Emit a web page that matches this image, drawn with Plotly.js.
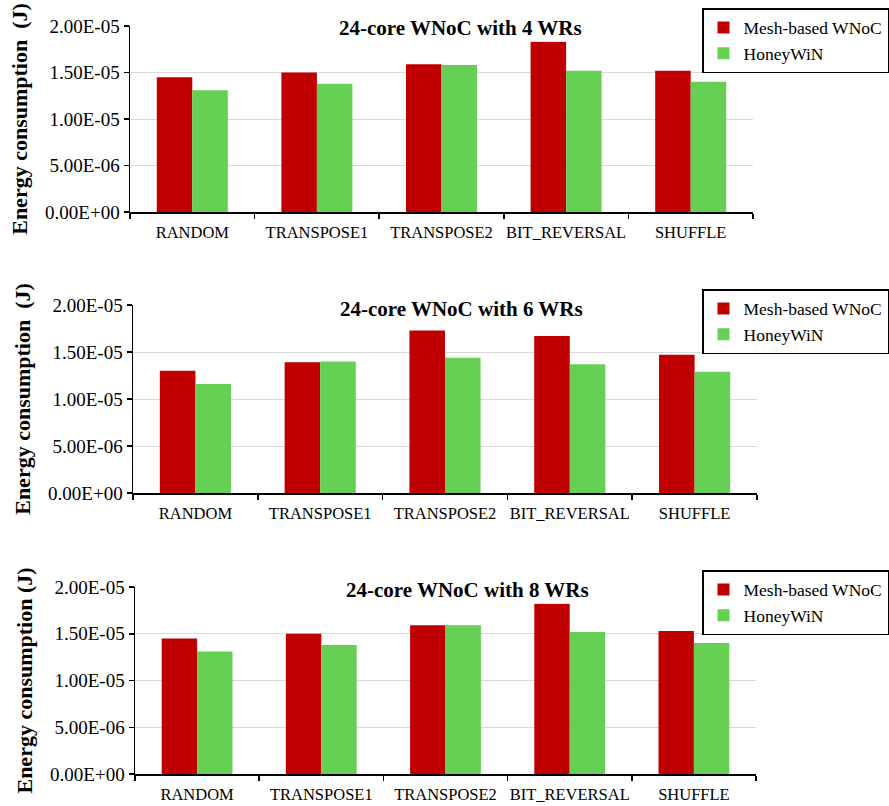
<!DOCTYPE html>
<html>
<head>
<meta charset="utf-8">
<script src="https://cdn.plot.ly/plotly-3.0.1.min.js"></script>
<style>
  html, body { margin: 0; padding: 0; background: #fff; }
  #chart { width: 889px; height: 806px; }
</style>
</head>
<body>
<div id="chart"></div>
<script>
// Traffic patterns on the x axis
const categories = ['RANDOM', 'TRANSPOSE1', 'TRANSPOSE2', 'BIT_REVERSAL', 'SHUFFLE'];

// Energy consumption (J), 4 wireless routers
const mesh4  = [1.45e-5, 1.50e-5, 1.59e-5, 1.83e-5, 1.52e-5];
const honey4 = [1.31e-5, 1.38e-5, 1.58e-5, 1.52e-5, 1.40e-5];

// Energy consumption (J), 6 wireless routers
const mesh6  = [1.30e-5, 1.39e-5, 1.73e-5, 1.67e-5, 1.47e-5];
const honey6 = [1.16e-5, 1.40e-5, 1.44e-5, 1.37e-5, 1.29e-5];

// Energy consumption (J), 8 wireless routers
const mesh8  = [1.45e-5, 1.50e-5, 1.59e-5, 1.82e-5, 1.53e-5];
const honey8 = [1.31e-5, 1.38e-5, 1.59e-5, 1.52e-5, 1.40e-5];

const seriesNames = ['Mesh-based WNoC', 'HoneyWiN'];
const panelTitles = ['24-core WNoC with 4 WRs', '24-core WNoC with 6 WRs', '24-core WNoC with 8 WRs'];
const yTitles = ['Energy consumption\u00a0 (J)', 'Energy consumption\u00a0 (J)', 'Energy consumption (J)'];
const yTickVals = [0, 5e-6, 1e-5, 1.5e-5, 2e-5];
const yTickText = ['0.00E+00', '5.00E-06', '1.00E-05', '1.50E-05', '2.00E-05'];

const W = 889, H = 806;
const FONT = '"Liberation Serif", "Times New Roman", serif';
const RED = '#c00000';
const GREEN = '#66d055';

// Pixel boxes of each plot area: [left, right, top, bottom]
const boxes = [
  [130, 753, 26, 212],
  [133, 757, 305, 493],
  [135, 756, 587, 774]
];
const titlePos = [[460, 28], [462, 309], [467, 590]];
const legendPos = [8, 289, 570];

const data = [];
const layout = {
  width: W, height: H,
  margin: {l: 0, r: 0, t: 0, b: 0},
  paper_bgcolor: '#fff', plot_bgcolor: '#fff',
  font: {family: FONT, color: '#000', size: 17},
  barmode: 'group',
  bargap: 0.43,
  bargroupgap: 0,
  annotations: []
};

const panels = [[mesh4, honey4], [mesh6, honey6], [mesh8, honey8]];

panels.forEach((pair, i) => {
  const n = i === 0 ? '' : String(i + 1);
  const legendId = 'legend' + n;
  const [l, r, t, b] = boxes[i];

  data.push({
    type: 'bar', name: seriesNames[0], x: categories, y: pair[0],
    xaxis: 'x' + n, yaxis: 'y' + n, legend: legendId,
    marker: {color: RED}, hoverinfo: 'y'
  });
  data.push({
    type: 'bar', name: seriesNames[1], x: categories, y: pair[1],
    xaxis: 'x' + n, yaxis: 'y' + n, legend: legendId,
    marker: {color: GREEN}, hoverinfo: 'y'
  });

  layout['xaxis' + n] = {
    domain: [l / W, r / W],
    anchor: 'y' + n,
    type: 'category',
    tickson: 'boundaries',
    tickangle: 0,
    ticks: 'outside', ticklen: 5, tickwidth: 1.5, tickcolor: '#000',
    ticklabelstandoff: 5,
    showline: true, linecolor: '#000', linewidth: 1.5,
    showgrid: false, zeroline: false,
    tickfont: {family: FONT, size: 16.5, color: '#000'},
    fixedrange: true
  };
  layout['yaxis' + n] = {
    domain: [(H - b) / H, (H - t) / H],
    anchor: 'x' + n,
    range: [0, 2e-5],
    tickvals: yTickVals, ticktext: yTickText,
    ticks: 'outside', ticklen: 5, tickwidth: 1.5, tickcolor: '#000',
    showline: true, linecolor: '#000', linewidth: 1.5,
    showgrid: true, gridcolor: '#d9d9d9', gridwidth: 1,
    zeroline: false,
    tickfont: {family: FONT, size: 19, color: '#000'},
    title: {
      text: '<b>' + yTitles[i] + '</b>',
      font: {family: FONT, size: 22, color: '#000'},
      standoff: 11
    },
    fixedrange: true
  };

  layout[legendId] = {
    x: 1, xanchor: 'right',
    y: (H - legendPos[i]) / H, yanchor: 'top',
    xref: 'paper', yref: 'paper',
    bgcolor: '#fff', bordercolor: '#000', borderwidth: 1.5,
    font: {family: FONT, size: 17.5, color: '#000'},
    itemwidth: 30,
    tracegroupgap: 0
  };

  layout.annotations.push({
    xref: 'paper', yref: 'paper',
    x: titlePos[i][0] / W, y: (H - titlePos[i][1]) / H,
    xanchor: 'center', yanchor: 'middle',
    text: '<b>' + panelTitles[i] + '</b>',
    showarrow: false,
    bgcolor: '#fff',
    font: {family: FONT, size: 21, color: '#000'}
  });
});

Plotly.newPlot('chart', data, layout, {displayModeBar: false, staticPlot: true});
</script>
</body>
</html>
